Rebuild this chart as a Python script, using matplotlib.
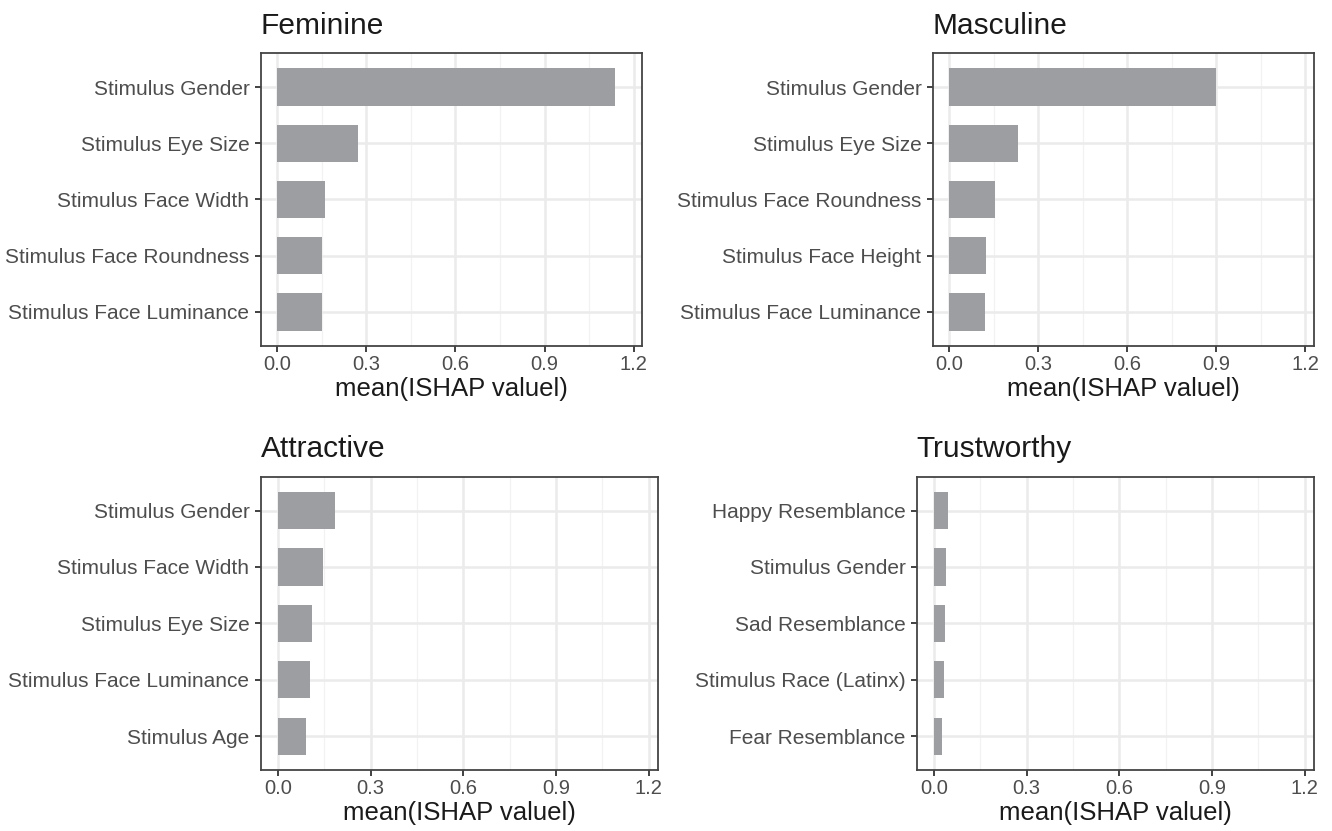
import matplotlib
matplotlib.use("Agg")
import matplotlib.pyplot as plt
import numpy as np

plt.rcParams['font.family'] = ['Liberation Sans', 'DejaVu Sans']

# mean |SHAP| per model, top 5 features
feminine_labels = ["Stimulus Gender", "Stimulus Eye Size", "Stimulus Face Width",
                   "Stimulus Face Roundness", "Stimulus Face Luminance"]
feminine_values = [1.138, 0.271, 0.161, 0.151, 0.151]

masculine_labels = ["Stimulus Gender", "Stimulus Eye Size", "Stimulus Face Roundness",
                    "Stimulus Face Height", "Stimulus Face Luminance"]
masculine_values = [0.899, 0.232, 0.154, 0.124, 0.120]

attractive_labels = ["Stimulus Gender", "Stimulus Face Width", "Stimulus Eye Size",
                     "Stimulus Face Luminance", "Stimulus Age"]
attractive_values = [0.184, 0.145, 0.109, 0.103, 0.090]

trustworthy_labels = ["Happy Resemblance", "Stimulus Gender", "Sad Resemblance",
                      "Stimulus Race (Latinx)", "Fear Resemblance"]
trustworthy_values = [0.045, 0.039, 0.036, 0.032, 0.026]

x_ticks = [0.0, 0.3, 0.6, 0.9, 1.2]
x_tick_labels = ["0.0", "0.3", "0.6", "0.9", "1.2"]
x_minor = [0.15, 0.45, 0.75, 1.05]
x_title = "mean(ISHAP valuel)"

panels = [
    ("Feminine", feminine_labels, feminine_values, [0.1957, 0.584, 0.2865, 0.3519]),
    ("Masculine", masculine_labels, masculine_values, [0.7002, 0.584, 0.2860, 0.3519]),
    ("Attractive", attractive_labels, attractive_values, [0.1957, 0.0734, 0.2980, 0.3529]),
    ("Trustworthy", trustworthy_labels, trustworthy_values, [0.6882, 0.0734, 0.2980, 0.3529]),
]

fig = plt.figure(figsize=(13.32, 8.31), dpi=100)
fig.patch.set_facecolor("white")

for title, labels, vals, rect in panels:
    ax = fig.add_axes(rect)
    y = np.arange(len(labels))
    ax.barh(y, vals, height=0.66, color="#9d9ea2", zorder=2)
    ax.set_xlim(-0.056, 1.229)
    ax.set_ylim(len(labels) - 1 + 0.6, -0.6)
    ax.set_yticks(y)
    ax.set_yticklabels(labels)
    ax.set_xticks(x_ticks)
    ax.set_xticklabels(x_tick_labels)
    ax.set_xticks(x_minor, minor=True)
    ax.grid(which="major", color="#EBEBEB", linewidth=1.8, zorder=0)
    ax.grid(which="minor", axis="x", color="#F2F2F2", linewidth=0.9, zorder=0)
    ax.set_axisbelow(True)
    ax.tick_params(which="major", length=4.6, width=1.3, color="#333333",
                   labelcolor="#4D4D4D")
    ax.tick_params(axis="y", labelsize=15, pad=3.5)
    ax.tick_params(axis="x", labelsize=14.5, pad=2)
    ax.tick_params(which="minor", length=0)
    for sp in ax.spines.values():
        sp.set_color("#444444")
        sp.set_linewidth(1.3)
    ax.set_xlabel(x_title, fontsize=18.5, color="#1a1a1a", labelpad=2)
    ax.set_title(title, loc="left", fontsize=21.5, color="#1a1a1a", pad=14)

fig.savefig("out.png", dpi=100, facecolor="white")
